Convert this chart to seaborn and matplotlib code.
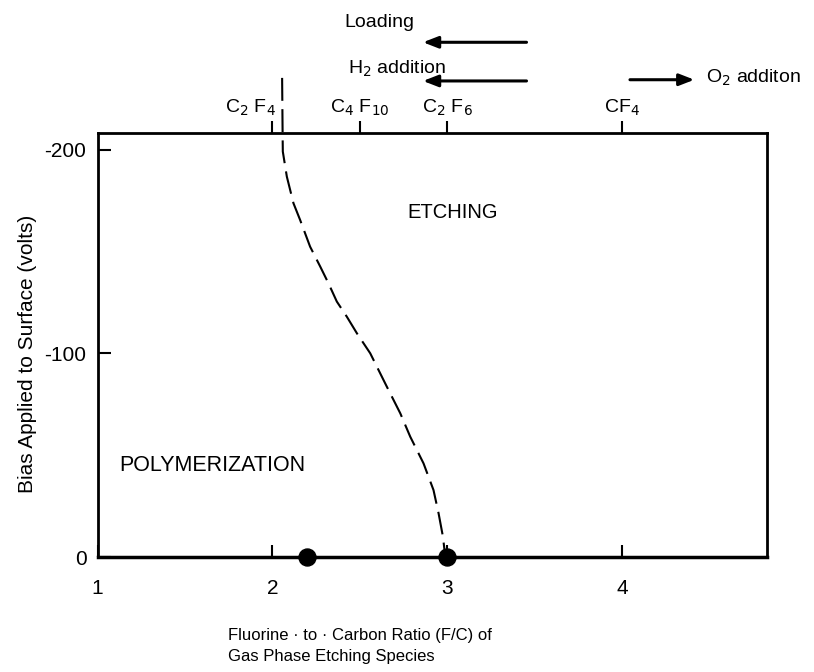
import matplotlib
matplotlib.use("Agg")
import matplotlib.pyplot as plt
import matplotlib.transforms as mtrans
import seaborn as sns
import pandas as pd

# boundary between polymerization and etching (F/C ratio vs bias)
boundary_fc = [2.056, 2.059, 2.060, 2.083, 2.121, 2.159, 2.216, 2.274, 2.321, 2.369, 2.426,
               2.484, 2.560, 2.655, 2.732, 2.789, 2.865, 2.922, 2.951, 2.976, 2.985, 3.0]
boundary_bias = [-235.4, -206.5, -199.2, -186.9, -173.8, -165.6, -152.5, -142.7, -134.5, -125.5, -118.1,
                 -109.9, -100.1, -83.7, -70.6, -59.1, -46.0, -32.9, -21.5, -10.0, -3.4, 0]

# gases marked on the zero-bias axis
point_fc = [2.2, 3.0]
point_bias = [0, 0]

# species on the top axis
species_fc = [2.0, 2.5, 3.0, 4.0]
species_labels = [r"C$_2$ F$_4$", r"C$_4$ F$_{10}$", r"C$_2$ F$_6$", r"CF$_4$"]

x_ticks = [1, 2, 3, 4]
y_ticks = [-200, -100, 0]

sns.set_style("ticks")
plt.rcParams["font.family"] = ["Liberation Sans", "DejaVu Sans"]
plt.rcParams["axes.unicode_minus"] = False
plt.rcParams["text.color"] = "black"
plt.rcParams["axes.labelcolor"] = "black"

fig = plt.figure(figsize=(8.14, 6.72), dpi=100)
ax = fig.add_axes([0.1198, 0.1711, 0.8225, 0.6309])

df_line = pd.DataFrame({"fc": boundary_fc, "bias": boundary_bias})
sns.lineplot(data=df_line, x="fc", y="bias", sort=False, ax=ax, color="black",
             linewidth=1.5, clip_on=False)
ax.lines[0].set_dashes([11, 4])

df_pts = pd.DataFrame({"fc": point_fc, "bias": point_bias})
sns.scatterplot(data=df_pts, x="fc", y="bias", ax=ax, color="black", s=150,
                edgecolor="black", clip_on=False, zorder=5)

ax.set_xlim(1, 4.83)
ax.set_ylim(0, -208.3)
ax.set_xticks(x_ticks)
ax.set_yticks(y_ticks)
ax.tick_params(axis="both", direction="in", length=9, width=1.5, labelsize=15, colors="black")
ax.tick_params(axis="x", pad=16)
ax.tick_params(axis="y", pad=8)
for s in ax.spines.values():
    s.set_linewidth(2)
    s.set_color("black")
ax.spines["bottom"].set_linewidth(2.5)

top = ax.secondary_xaxis("top")
top.set_xticks(species_fc)
top.set_xticklabels(species_labels)
top.tick_params(direction="out", length=9, width=1.5, labelsize=14, pad=2, colors="black")
top.spines["top"].set_visible(False)
lab0 = top.get_xticklabels()[0]
lab0.set_transform(lab0.get_transform() + mtrans.ScaledTranslation(-0.22, 0, fig.dpi_scale_trans))

ax.set_xlabel("Fluorine · to · Carbon Ratio (F/C) of\nGas Phase Etching Species",
              fontsize=12, ha="left", multialignment="left", linespacing=1.5)
ax.xaxis.set_label_coords(0.195, -0.168)
ax.set_ylabel("Bias Applied to Surface (volts)", fontsize=15)
ax.yaxis.set_label_coords(-0.09, 0.48)

ax.text(3.03, -169.3, "ETCHING", fontsize=14.5, ha="center", va="center")
ax.text(1.655, -45.2, "POLYMERIZATION", fontsize=15.5, ha="center", va="center")

arrow = dict(arrowstyle="-|>,head_length=0.9,head_width=0.35", color="black", lw=2.2)
ax.annotate("", xy=(2.846, -252.9), xytext=(3.47, -252.9), arrowprops=arrow, annotation_clip=False)
ax.annotate("", xy=(2.846, -233.9), xytext=(3.47, -233.9), arrowprops=arrow, annotation_clip=False)
ax.annotate("", xy=(4.43, -234.5), xytext=(4.03, -234.5), arrowprops=arrow, annotation_clip=False)
ax.text(2.611, -260.4, "Loading", fontsize=14, ha="center", va="baseline", clip_on=False)
ax.text(2.711, -237.3, r"H$_2$ addition", fontsize=14, ha="center", va="baseline", clip_on=False)
ax.text(4.48, -235.5, r"O$_2$ additon", fontsize=14, ha="left", va="center", clip_on=False)

fig.savefig("out.png", dpi=100)
